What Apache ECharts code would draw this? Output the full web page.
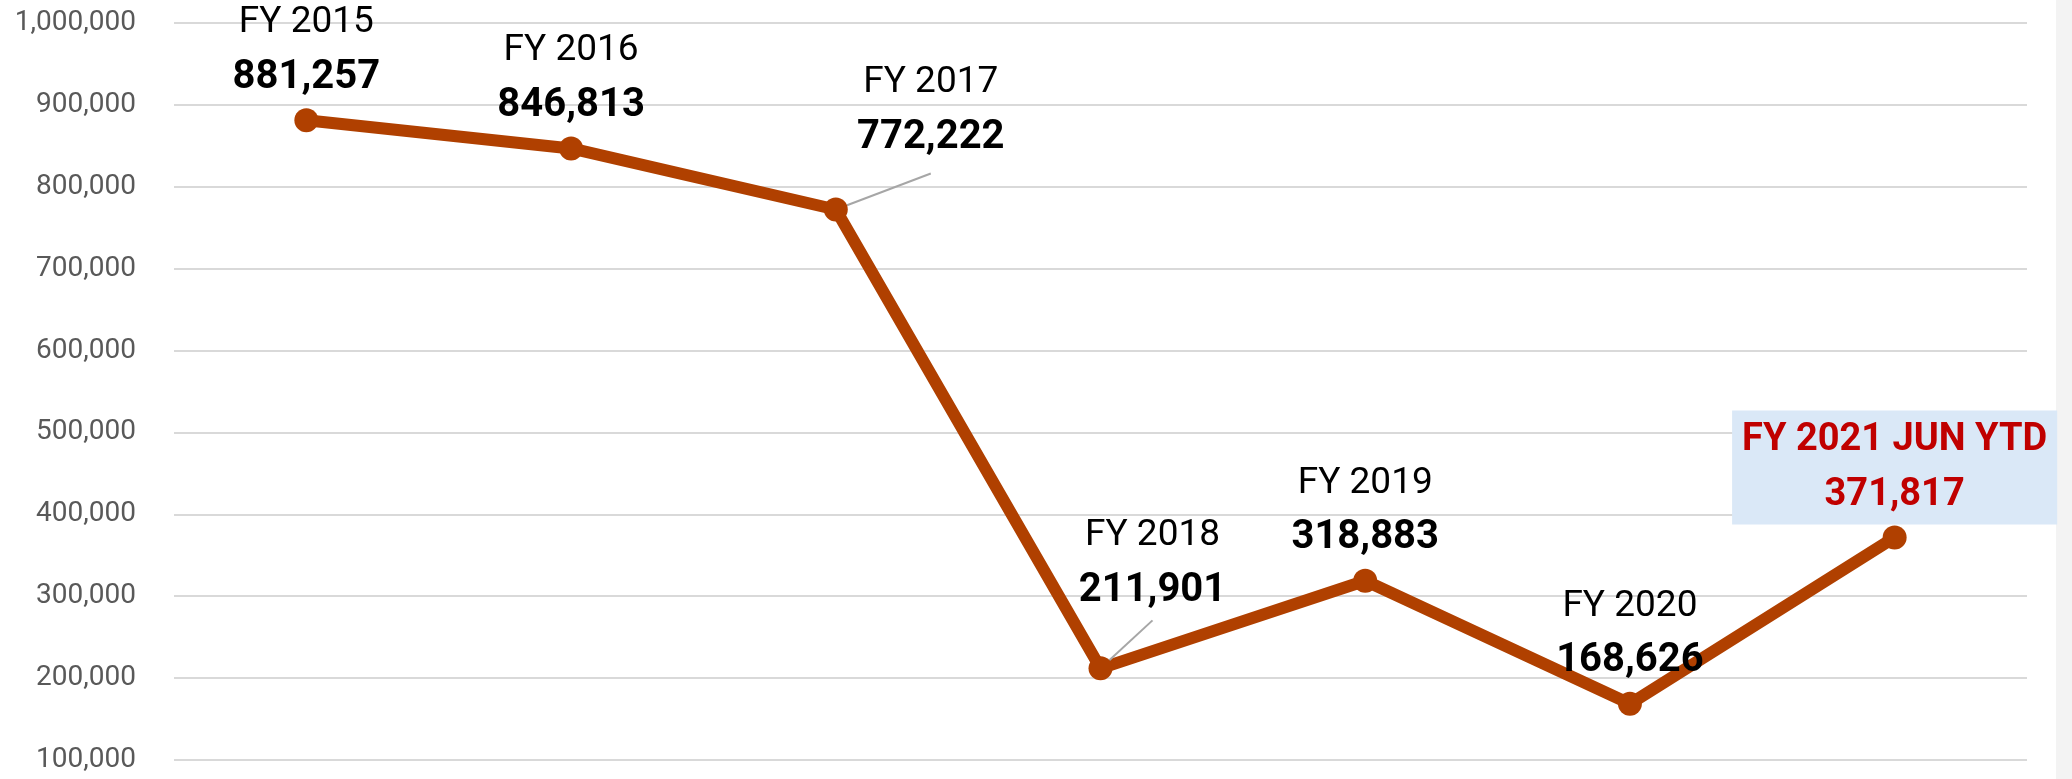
<!DOCTYPE html>
<html>
<head>
<meta charset="utf-8">
<script src="https://cdn.jsdelivr.net/npm/echarts@6/dist/echarts.min.js"></script>
<style>
  html, body { margin: 0; padding: 0; background: #fff; }
  #chart { width: 2072px; height: 779px; }
</style>
</head>
<body>
<div id="chart"></div>
<script>
// fiscal years and yearly totals
const categories = ['FY 2015', 'FY 2016', 'FY 2017', 'FY 2018', 'FY 2019', 'FY 2020', 'FY 2021 JUN YTD']
const values = [881257, 846813, 772222, 211901, 318883, 168626, 371817]
const yMin = 100000
const yMax = 1000000
const yStep = 100000

// labels pushed away from their point (moved with a leader line)
// pad makes the leader line leave from the bottom of the label
const labelShift = {
  2: { dx: 95, dy: -21, pad: [60, 0, 8, 0] },
  3: { dx: 52, dy: -33, pad: [0, 0, 2, 0] }
}
const highlightIndex = categories.length - 1

const fmt = v => Number(v).toLocaleString('en-US')

const chart = echarts.init(document.getElementById('chart'))

const seriesData = values.map((v, i) => {
  const item = { value: v }
  if (labelShift[i]) {
    // transparent box so the padding counts in the label's bounds
    item.label = { padding: labelShift[i].pad, backgroundColor: 'transparent' }
    item.labelLine = { show: true, lineStyle: { color: '#a6a6a6', width: 2 } }
  }
  if (i === highlightIndex) {
    item.label = {
      backgroundColor: '#DAE8F7',
      padding: [3, 10, 1, 10],
      distance: 1
    }
  }
  return item
})

const option = {
  backgroundColor: '#fff',
  animation: false,
  grid: { left: 174, right: 45, top: 23, bottom: 19 },
  xAxis: {
    type: 'category',
    data: categories,
    boundaryGap: true,
    show: false
  },
  yAxis: {
    type: 'value',
    min: yMin,
    max: yMax,
    interval: yStep,
    axisLine: { show: false },
    axisTick: { show: false },
    axisLabel: {
      margin: 38,
      color: '#595959',
      fontSize: 28,
      fontFamily: 'Roboto',
      formatter: v => fmt(v)
    },
    splitLine: { lineStyle: { color: '#d9d9d9', width: 2 } }
  },
  series: [
    {
      type: 'line',
      data: seriesData,
      symbol: 'circle',
      symbolSize: 24,
      itemStyle: { color: '#B04000' },
      lineStyle: { color: '#B04000', width: 12 },
      label: {
        show: true,
        position: 'top',
        distance: 3,
        formatter: p => p.dataIndex === highlightIndex
          ? '{rn|' + categories[p.dataIndex] + '}\n{rv|' + fmt(p.value) + '}'
          : '{n|' + categories[p.dataIndex] + '}\n{v|' + fmt(p.value) + '}',
        rich: {
          n: { fontFamily: 'Roboto', fontSize: 37, color: '#000', lineHeight: 55, align: 'center' },
          v: { fontFamily: 'Roboto', fontSize: 40, fontWeight: 'bold', color: '#000', lineHeight: 55, align: 'center' },
          rn: { fontFamily: 'Roboto', fontSize: 38, fontWeight: 'bold', color: '#C00000', lineHeight: 55, align: 'center' },
          rv: { fontFamily: 'Roboto', fontSize: 38, fontWeight: 'bold', color: '#C00000', lineHeight: 55, align: 'center' }
        }
      },
      labelLayout: p => {
        const s = labelShift[p.dataIndex]
        return s ? { dx: s.dx, dy: s.dy } : {}
      }
    }
  ],
  graphic: [
    {
      type: 'rect',
      right: 0,
      top: 0,
      shape: { width: 16, height: 779 },
      style: { fill: '#f3f3f3' },
      z: -1
    }
  ]
}

chart.setOption(option)
</script>
</body>
</html>
